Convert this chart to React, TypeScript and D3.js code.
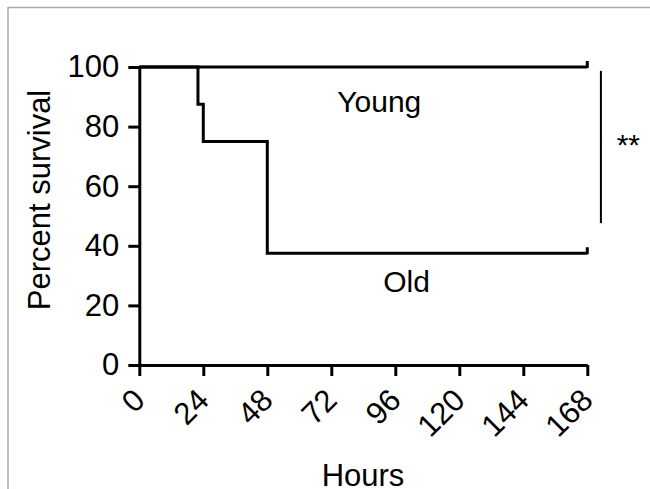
import React, { useEffect, useRef } from 'react'
import * as d3 from 'd3'

// survival steps (hours, percent)
const oldHours = [0, 22, 24, 48, 168]
const oldSurvival = [100, 87.5, 75, 37.5, 37.5]
const youngHours = [0, 168]
const youngSurvival = [100, 100]

const xTicks = [0, 24, 48, 72, 96, 120, 144, 168]
const yTicks = [0, 20, 40, 60, 80, 100]

const groupNames = ['Young', 'Old']
const signifLabel = '**'

const W = 650
const H = 489
const FONT = '"Liberation Sans", Arial, Helvetica, sans-serif'

export default function App() {
  const ref = useRef<SVGSVGElement>(null)

  useEffect(() => {
    const svg = d3.select(ref.current)
    svg.selectAll('*').remove()

    // gray frame (top + left only visible)
    svg.append('line').attr('x1', 8).attr('x2', W).attr('y1', 7.5).attr('y2', 7.5)
      .attr('stroke', '#aaa').attr('stroke-width', 1.5)
    svg.append('line').attr('x1', 8).attr('x2', 8).attr('y1', 7).attr('y2', H)
      .attr('stroke', '#aaa').attr('stroke-width', 1.5)

    const x = d3.scaleLinear().domain([0, 168]).range([139.3, 587.3])
    const y = d3.scaleLinear().domain([0, 100]).range([365, 67])

    // y axis
    const gy = svg.append('g')
      .attr('transform', `translate(${x(0)},0)`)
      .call(d3.axisLeft(y).tickValues(yTicks).tickSize(11).tickSizeOuter(0).tickPadding(9))
    gy.select('.domain').attr('stroke', '#000').attr('stroke-width', 3)
    gy.selectAll('.tick line').attr('stroke', '#000').attr('stroke-width', 3)
    gy.selectAll('.tick text').attr('font-size', 31).attr('font-family', FONT).attr('fill', '#000')

    // x axis
    const gx = svg.append('g')
      .attr('transform', `translate(0,${y(0)})`)
      .call(d3.axisBottom(x).tickValues(xTicks).tickSize(11).tickSizeOuter(0))
    gx.select('.domain').attr('stroke', '#000').attr('stroke-width', 3)
    gx.selectAll('.tick line').attr('stroke', '#000').attr('stroke-width', 3)
    gx.selectAll('.tick text')
      .attr('font-size', 31).attr('font-family', FONT).attr('fill', '#000')
      .attr('x', 0).attr('y', 0).attr('dy', 0)
      .attr('text-anchor', 'end')
      .attr('transform', 'translate(7,37) rotate(-45)')

    // survival curves
    const line = d3.line<[number, number]>()
      .x(d => x(d[0]))
      .y(d => y(d[1]))
      .curve(d3.curveStepAfter)

    const youngPts = youngHours.map((h, i) => [h, youngSurvival[i]] as [number, number])
    const oldPts = oldHours.map((h, i) => [h, oldSurvival[i]] as [number, number])

    ;[youngPts, oldPts].forEach(pts => {
      svg.append('path')
        .attr('d', line(pts))
        .attr('fill', 'none')
        .attr('stroke', '#000')
        .attr('stroke-width', 3)
        .attr('stroke-linejoin', 'miter')
      // censor tick at last point
      const last = pts[pts.length - 1]
      svg.append('line')
        .attr('x1', x(last[0])).attr('x2', x(last[0]))
        .attr('y1', y(last[1]) + 1).attr('y2', y(last[1]) - 6)
        .attr('stroke', '#000').attr('stroke-width', 3)
    })

    // group labels
    svg.append('text').text(groupNames[0])
      .attr('x', x(90)).attr('y', y(84.9))
      .attr('text-anchor', 'middle').attr('font-size', 30).attr('font-family', FONT)
    svg.append('text').text(groupNames[1])
      .attr('x', x(100.2)).attr('y', y(24.5))
      .attr('text-anchor', 'middle').attr('font-size', 30).attr('font-family', FONT)

    // significance bracket
    svg.append('line')
      .attr('x1', x(173.1)).attr('x2', x(173.1))
      .attr('y1', y(98.7)).attr('y2', y(47.6))
      .attr('stroke', '#000').attr('stroke-width', 2)
    svg.append('text').text(signifLabel)
      .attr('x', x(179)).attr('y', y(70.5))
      .attr('font-size', 30).attr('font-family', FONT)

    // axis titles
    svg.append('text').text('Percent survival')
      .attr('transform', 'translate(50,200) rotate(-90)')
      .attr('text-anchor', 'middle').attr('font-size', 31).attr('font-family', FONT)
    svg.append('text').text('Hours')
      .attr('x', 363).attr('y', 486)
      .attr('text-anchor', 'middle').attr('font-size', 31).attr('font-family', FONT)
  }, [])

  return (
    <svg ref={ref} width={W} height={H}
      style={{ position: 'absolute', left: 0, top: 0, background: '#fff' }} />
  )
}
